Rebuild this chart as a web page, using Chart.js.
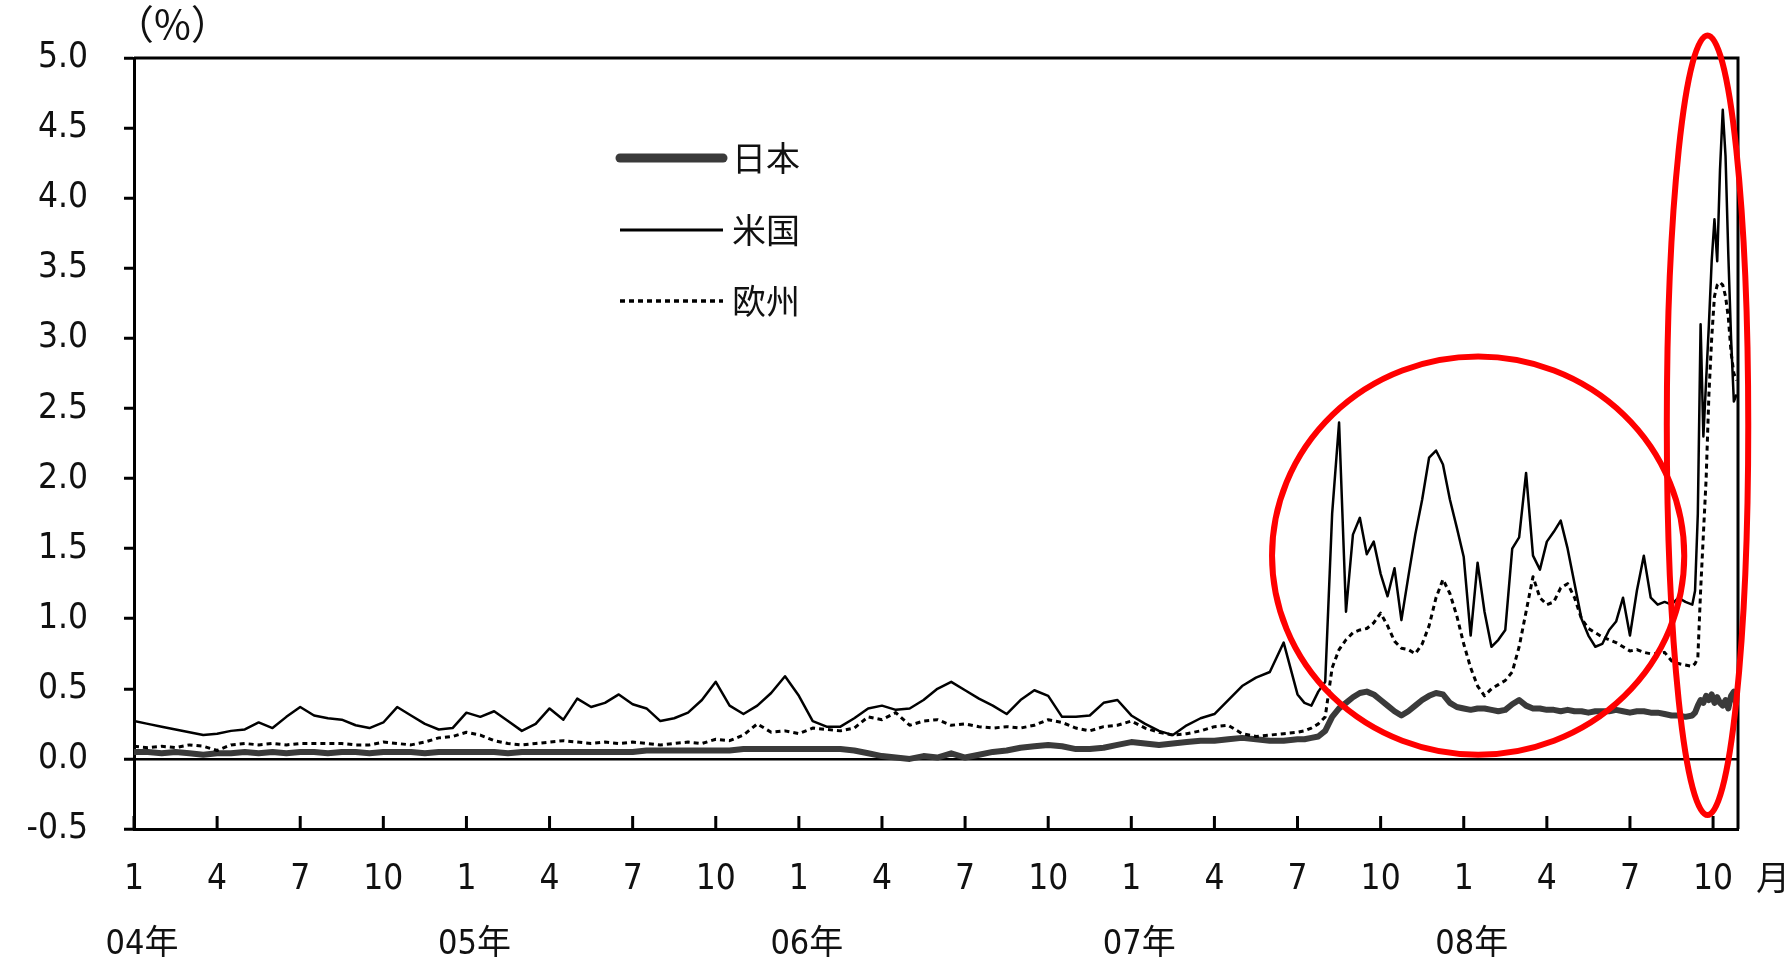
<!DOCTYPE html>
<html lang="ja">
<head>
  <meta charset="UTF-8" />
  <title>短期金利スプレッド 日本・米国・欧州</title>
  <script src="https://cdn.jsdelivr.net/npm/chart.js"></script>
  <style>
    body {
      margin: 0;
      background: #fff;
    }
    #wrap {
      width: 1791px;
      height: 967px;
    }
  </style>
</head>
<body>
  <div id="wrap">
    <canvas id="grafico" width="1791" height="967"></canvas>
  </div>

  <script>
    // months since Jan 2004
    const months = [
      0, 0.5, 1, 1.5, 2, 2.5, 3, 3.5, 4, 4.5,
      5, 5.5, 6, 6.5, 7, 7.5, 8, 8.5, 9, 9.5,
      10, 10.5, 11, 11.5, 12, 12.5, 13, 13.5, 14, 14.5,
      15, 15.5, 16, 16.5, 17, 17.5, 18, 18.5, 19, 19.5,
      20, 20.5, 21, 21.5, 22, 22.5, 23, 23.5, 24, 24.5,
      25, 25.5, 26, 26.5, 27, 27.5, 28, 28.5, 29, 29.5,
      30, 30.5, 31, 31.5, 32, 32.5, 33, 33.5, 34, 34.5,
      35, 35.5, 36, 36.5, 37, 37.5, 38, 38.5, 39, 39.5,
      40, 40.5, 41, 41.5, 42,
      42.25, 42.5, 42.75, 43, 43.25, 43.5, 43.75, 44,
      44.25, 44.5, 44.75, 45, 45.25, 45.5, 45.75, 46,
      46.25, 46.5, 46.75, 47, 47.25, 47.5, 47.75, 48,
      48.25, 48.5, 48.75, 49, 49.25, 49.5, 49.75, 50,
      50.25, 50.5, 50.75, 51, 51.25, 51.5, 51.75, 52,
      52.25, 52.5, 52.75, 53, 53.25, 53.5, 53.75, 54,
      54.25, 54.5, 54.75, 55, 55.25, 55.5, 55.75, 56,
      56.25,
      56.35, 56.45, 56.55, 56.65, 56.75, 56.85, 56.95, 57.05,
      57.15, 57.25, 57.35, 57.45, 57.55, 57.65, 57.75, 57.85
    ];

    const japan = [
      0.05, 0.05, 0.04, 0.05, 0.04, 0.03, 0.04, 0.04, 0.05, 0.04,
      0.05, 0.04, 0.05, 0.05, 0.04, 0.05, 0.05, 0.04, 0.05, 0.05,
      0.05, 0.04, 0.05, 0.05, 0.05, 0.05, 0.05, 0.04, 0.05, 0.05,
      0.05, 0.05, 0.05, 0.05, 0.05, 0.05, 0.05, 0.06, 0.06, 0.06,
      0.06, 0.06, 0.06, 0.06, 0.07, 0.07, 0.07, 0.07, 0.07, 0.07,
      0.07, 0.07, 0.06, 0.04, 0.02, 0.01, 0.00, 0.02, 0.01, 0.04,
      0.01, 0.03, 0.05, 0.06, 0.08, 0.09, 0.10, 0.09, 0.07, 0.07,
      0.08, 0.10, 0.12, 0.11, 0.10, 0.11, 0.12, 0.13, 0.13, 0.14,
      0.15, 0.14, 0.13, 0.13, 0.14,
      0.14, 0.15, 0.16, 0.20, 0.30, 0.36, 0.40, 0.44,
      0.47, 0.48, 0.46, 0.42, 0.38, 0.34, 0.31, 0.34,
      0.38, 0.42, 0.45, 0.47, 0.46, 0.40, 0.37, 0.36,
      0.35, 0.36, 0.36, 0.35, 0.34, 0.35, 0.39, 0.42,
      0.38, 0.36, 0.36, 0.35, 0.35, 0.34, 0.35, 0.34,
      0.34, 0.33, 0.34, 0.34, 0.34, 0.35, 0.34, 0.33,
      0.34, 0.34, 0.33, 0.33, 0.32, 0.31, 0.31, 0.30,
      0.31,
      0.33, 0.38, 0.42, 0.40, 0.45, 0.42, 0.46, 0.40,
      0.44, 0.40, 0.38, 0.42, 0.36, 0.45, 0.48, 0.38
    ];

    const us = [
      0.27, 0.25, 0.23, 0.21, 0.19, 0.17, 0.18, 0.20, 0.21, 0.26,
      0.22, 0.30, 0.37, 0.31, 0.29, 0.28, 0.24, 0.22, 0.26, 0.37,
      0.31, 0.25, 0.21, 0.22, 0.33, 0.30, 0.34, 0.27, 0.20, 0.25,
      0.36, 0.28, 0.43, 0.37, 0.40, 0.46, 0.39, 0.36, 0.27, 0.29,
      0.33, 0.42, 0.55, 0.38, 0.32, 0.38, 0.47, 0.59, 0.45, 0.27,
      0.23, 0.23, 0.29, 0.36, 0.38, 0.35, 0.36, 0.42, 0.50, 0.55,
      0.49, 0.43, 0.38, 0.32, 0.42, 0.49, 0.45, 0.30, 0.30, 0.31,
      0.40, 0.42, 0.31, 0.25, 0.20, 0.17, 0.24, 0.29, 0.32, 0.42,
      0.52, 0.58, 0.62, 0.83, 0.46,
      0.40, 0.38, 0.48, 0.55, 1.75, 2.40, 1.05, 1.60,
      1.72, 1.46, 1.55, 1.32, 1.16, 1.36, 0.99, 1.30,
      1.60, 1.85, 2.15, 2.20, 2.10, 1.85, 1.65, 1.44,
      0.88, 1.40, 1.05, 0.80, 0.85, 0.92, 1.50, 1.58,
      2.04, 1.45, 1.35, 1.55, 1.62, 1.70, 1.50, 1.25,
      1.00, 0.88, 0.80, 0.82, 0.92, 0.98, 1.15, 0.88,
      1.20, 1.45, 1.15, 1.10, 1.12, 1.10, 1.15, 1.12,
      1.10,
      1.20, 1.75, 3.10, 2.30, 2.70, 3.10, 3.55, 3.85,
      3.55, 4.20, 4.63, 4.30, 3.60, 3.00, 2.55, 2.60
    ];

    const europe = [
      0.09, 0.08, 0.09, 0.08, 0.10, 0.09, 0.06, 0.10, 0.11, 0.10,
      0.11, 0.10, 0.11, 0.11, 0.11, 0.11, 0.10, 0.10, 0.12, 0.11,
      0.10, 0.12, 0.15, 0.16, 0.19, 0.17, 0.13, 0.11, 0.10, 0.11,
      0.12, 0.13, 0.12, 0.11, 0.12, 0.11, 0.12, 0.11, 0.10, 0.11,
      0.12, 0.11, 0.14, 0.13, 0.17, 0.25, 0.19, 0.20, 0.18, 0.22,
      0.21, 0.20, 0.22, 0.30, 0.28, 0.33, 0.24, 0.27, 0.28, 0.24,
      0.25, 0.23, 0.22, 0.23, 0.22, 0.24, 0.28, 0.26, 0.22, 0.20,
      0.23, 0.24, 0.27, 0.22, 0.19, 0.17, 0.18, 0.20, 0.23, 0.24,
      0.18, 0.16, 0.17, 0.18, 0.19,
      0.20, 0.22, 0.25, 0.30, 0.65, 0.78, 0.85, 0.90,
      0.92, 0.93, 0.97, 1.04, 0.95, 0.84, 0.79, 0.78,
      0.75, 0.82, 0.95, 1.15, 1.28, 1.18, 1.02, 0.82,
      0.65, 0.52, 0.45, 0.50, 0.53, 0.56, 0.62, 0.80,
      1.05, 1.30, 1.15, 1.10, 1.12, 1.22, 1.25, 1.15,
      1.00, 0.93, 0.90, 0.87, 0.85, 0.83, 0.80, 0.77,
      0.78, 0.76, 0.75, 0.75, 0.76, 0.70, 0.68, 0.67,
      0.66,
      0.68, 0.72, 1.20, 1.60, 2.00, 2.60, 3.00, 3.30,
      3.38, 3.40, 3.38, 3.30, 3.15, 2.90, 2.75, 2.70
    ];

    const tickMonths = [0, 3, 6, 9, 12, 15, 18, 21, 24, 27, 30, 33, 36, 39, 42, 45, 48, 51, 54, 57];
    const tickLabels = ['1', '4', '7', '10', '1', '4', '7', '10', '1', '4', '7', '10', '1', '4', '7', '10', '1', '4', '7', '10'];
    const yearStarts = [0, 12, 24, 36, 48];
    const yearLabels = ['04年', '05年', '06年', '07年', '08年'];

    // red marks: centre and radii in months / %
    const highlights = [
      { cx: 48.52, cy: 1.45, rx: 7.44, ry: 1.42 },
      { cx: 56.8, cy: 2.38, rx: 1.47, ry: 2.78 }
    ];

    const FUENTE = "'Liberation Sans Narrow', 'DejaVu Sans Condensed', 'Noto Sans CJK JP', sans-serif";
    const FUENTE_JP = "'Noto Sans CJK JP', sans-serif";

    const pts = arr => months.map((m, i) => ({ x: m, y: arr[i] }));

    const extras = {
      id: 'extras',
      afterDraw(chart) {
        const { ctx, chartArea: a, scales: { x, y } } = chart;
        ctx.save();

        // marco superior y derecho
        ctx.strokeStyle = '#000';
        ctx.lineWidth = 3;
        ctx.beginPath();
        ctx.moveTo(a.left, a.top);
        ctx.lineTo(a.right, a.top);
        ctx.lineTo(a.right, a.bottom);
        ctx.stroke();

        // ticks hacia dentro en el eje x
        tickMonths.forEach(m => {
          const px = x.getPixelForValue(m);
          ctx.beginPath();
          ctx.moveTo(px, a.bottom);
          ctx.lineTo(px, a.bottom - 13);
          ctx.stroke();
        });

        ctx.fillStyle = '#111';
        ctx.textBaseline = 'middle';

        // años
        ctx.font = "34px " + FUENTE;
        ctx.textAlign = 'center';
        yearStarts.forEach((m, i) => {
          ctx.fillText(yearLabels[i], x.getPixelForValue(m) + 8, a.bottom + 116);
        });
        ctx.fillText('月', x.getPixelForValue(57) + 60, a.bottom + 52);

        // unidad
        ctx.font = "40px " + FUENTE_JP;
        ctx.textAlign = 'left';
        ctx.fillText('（%）', a.left - 20, 24);

        // leyenda
        const filas = [158, 230, 301];
        chart.data.datasets.forEach((ds, i) => {
          ctx.save();
          ctx.strokeStyle = ds.borderColor;
          ctx.lineWidth = ds.legendWidth;
          ctx.lineCap = i === 0 ? 'round' : 'butt';
          ctx.setLineDash(ds.borderDash || []);
          ctx.beginPath();
          ctx.moveTo(620, filas[i]);
          ctx.lineTo(723, filas[i]);
          ctx.stroke();
          ctx.restore();
          ctx.font = "34px " + FUENTE_JP;
          ctx.fillText(ds.label, 732, filas[i]);
        });

        // círculos rojos
        ctx.strokeStyle = '#ff0000';
        ctx.lineWidth = 6;
        highlights.forEach(h => {
          const cx = x.getPixelForValue(h.cx);
          const cy = y.getPixelForValue(h.cy);
          const rx = x.getPixelForValue(h.cx + h.rx) - cx;
          const ry = y.getPixelForValue(h.cy - h.ry) - cy;
          ctx.beginPath();
          ctx.ellipse(cx, cy, rx, ry, 0, 0, Math.PI * 2);
          ctx.stroke();
        });

        ctx.restore();
      }
    };

    const ctx = document.getElementById('grafico').getContext('2d');

    new Chart(ctx, {
      type: 'line',
      data: {
        datasets: [
          {
            label: '日本',
            data: pts(japan),
            borderColor: '#3a3a3a',
            borderWidth: 6,
            legendWidth: 9,
            order: 3
          },
          {
            label: '米国',
            data: pts(us),
            borderColor: '#000',
            borderWidth: 2.5,
            legendWidth: 3,
            order: 1
          },
          {
            label: '欧州',
            data: pts(europe),
            borderColor: '#000',
            borderWidth: 3,
            borderDash: [5, 4],
            legendWidth: 3.5,
            order: 2
          }
        ]
      },
      options: {
        responsive: false,
        animation: false,
        devicePixelRatio: 1,
        layout: { padding: { left: 0, top: 58, right: 53, bottom: 0 } },
        elements: {
          point: { radius: 0 },
          line: { tension: 0, fill: false, borderJoinStyle: 'round' }
        },
        plugins: {
          legend: { display: false },
          tooltip: { enabled: false }
        },
        scales: {
          x: {
            type: 'linear',
            min: 0,
            max: 57.9,
            afterBuildTicks: s => { s.ticks = tickMonths.map(v => ({ value: v })); },
            afterFit: s => { s.height = 138; },
            grid: { drawOnChartArea: false, drawTicks: false },
            border: { display: true, color: '#000', width: 3 },
            ticks: {
              autoSkip: false,
              maxRotation: 0,
              padding: 30,
              color: '#111',
              font: { family: FUENTE, size: 35 },
              callback: (v, i) => tickLabels[i]
            }
          },
          y: {
            min: -0.5,
            max: 5,
            afterFit: s => { s.width = 134; },
            grid: {
              color: c => (c.tick && c.tick.value === 0 ? '#000' : 'rgba(0,0,0,0)'),
              lineWidth: 2.5,
              tickColor: '#000',
              tickLength: 10,
              tickWidth: 3
            },
            border: { display: true, color: '#000', width: 3 },
            ticks: {
              stepSize: 0.5,
              padding: 36,
              color: '#111',
              font: { family: FUENTE, size: 35 },
              callback: v => v.toFixed(1)
            }
          }
        }
      },
      plugins: [extras]
    });
  </script>
</body>
</html>
